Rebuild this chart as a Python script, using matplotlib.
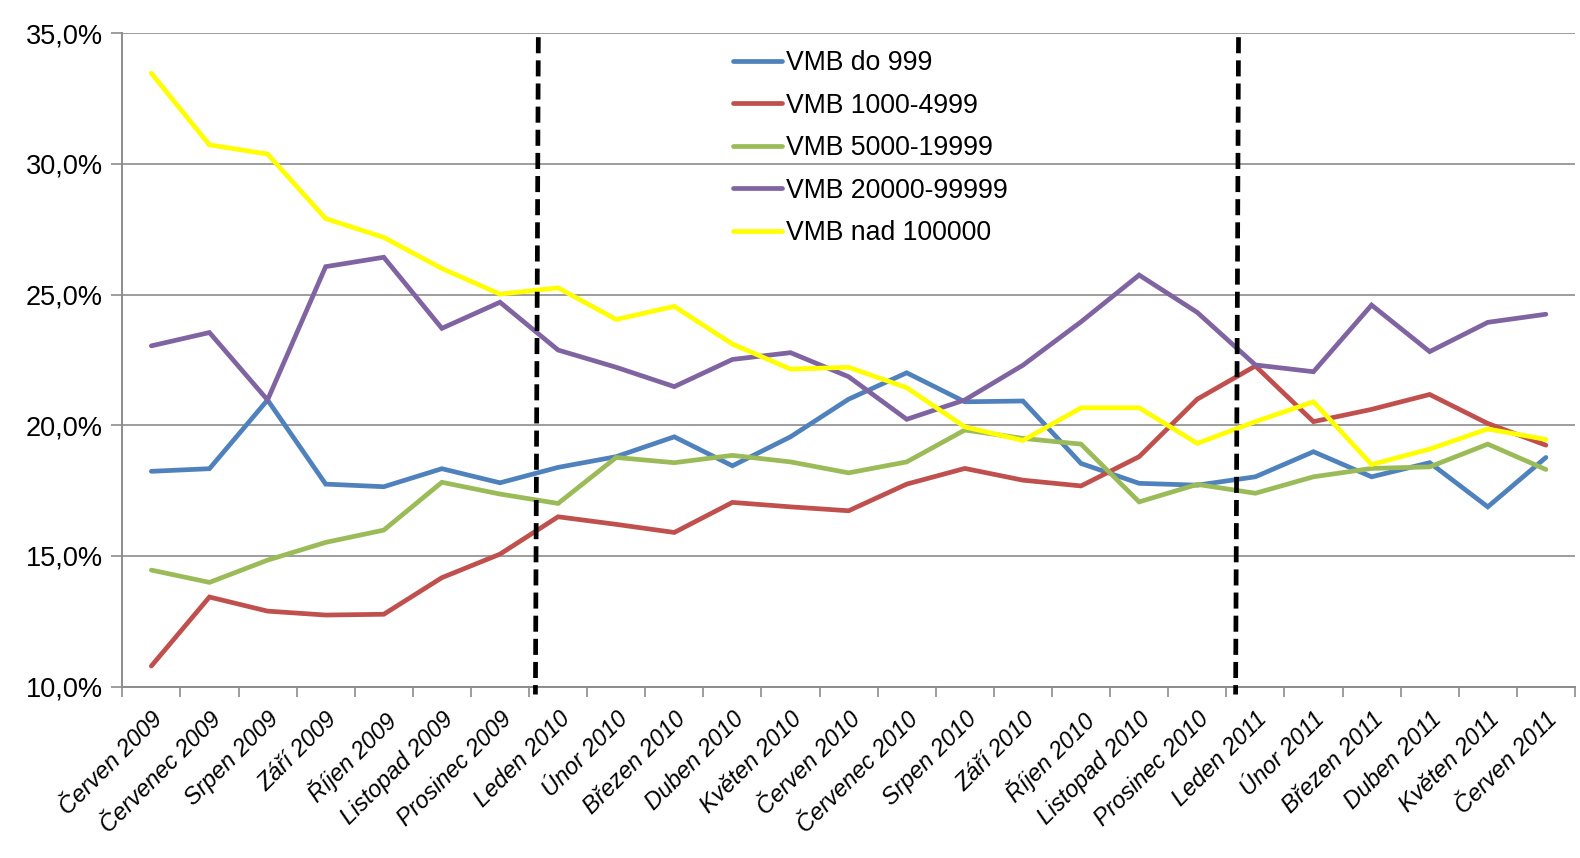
import matplotlib
matplotlib.use("Agg")
import matplotlib.pyplot as plt
import numpy as np
from matplotlib.ticker import FixedLocator, FuncFormatter

plt.rcParams['font.family'] = ['Liberation Sans', 'DejaVu Sans']

months = ['Červen 2009', 'Červenec 2009', 'Srpen 2009', 'Září 2009', 'Říjen 2009',
          'Listopad 2009', 'Prosinec 2009', 'Leden 2010', 'Únor 2010', 'Březen 2010',
          'Duben 2010', 'Květen 2010', 'Červen 2010', 'Červenec 2010', 'Srpen 2010',
          'Září 2010', 'Říjen 2010', 'Listopad 2010', 'Prosinec 2010', 'Leden 2011',
          'Únor 2011', 'Březen 2011', 'Duben 2011', 'Květen 2011', 'Červen 2011']

# shares in percent
vmb_do_999 = [18.24, 18.34, 20.97, 17.75, 17.65, 18.34, 17.80, 18.39, 18.80, 19.56,
              18.45, 19.56, 21.00, 22.01, 20.90, 20.93, 18.54, 17.78, 17.71, 18.03,
              18.99, 18.03, 18.57, 16.88, 18.77]
vmb_1000_4999 = [10.79, 13.43, 12.89, 12.74, 12.77, 14.17, 15.07, 16.50, 16.21, 15.90,
                 17.05, 16.88, 16.73, 17.75, 18.35, 17.90, 17.68, 18.80, 21.00, 22.27,
                 20.14, 20.61, 21.18, 20.07, 19.24]
vmb_5000_19999 = [14.46, 13.99, 14.84, 15.52, 15.99, 17.82, 17.37, 17.01, 18.77, 18.57,
                  18.85, 18.60, 18.18, 18.60, 19.82, 19.50, 19.28, 17.07, 17.74, 17.40,
                  18.03, 18.35, 18.41, 19.28, 18.31]
vmb_20000_99999 = [23.04, 23.55, 20.97, 26.07, 26.43, 23.71, 24.71, 22.88, 22.22, 21.48,
                   22.52, 22.78, 21.86, 20.23, 20.97, 22.30, 23.96, 25.75, 24.32, 22.31,
                   22.05, 24.60, 22.82, 23.94, 24.25]
vmb_nad_100000 = [33.47, 30.73, 30.38, 27.91, 27.19, 26.00, 25.02, 25.26, 24.05, 24.55,
                  23.11, 22.15, 22.22, 21.44, 19.94, 19.42, 20.67, 20.67, 19.31, 20.14,
                  20.90, 18.50, 19.09, 19.86, 19.46]

series = [
    ('VMB do 999', vmb_do_999, '#4F81BD'),
    ('VMB 1000-4999', vmb_1000_4999, '#C0504D'),
    ('VMB 5000-19999', vmb_5000_19999, '#9BBB59'),
    ('VMB 20000-99999', vmb_20000_99999, '#8064A2'),
    ('VMB nad 100000', vmb_nad_100000, '#FFFF00'),
]

# year separators (category position, slightly slanted like the hand-drawn original)
separators = [(6.66, 6.61), (18.71, 18.66)]

fig = plt.figure(figsize=(15.8, 8.58), dpi=100)
ax = fig.add_axes([0.0774, 0.1997, 0.9194, 0.7615])

x = np.arange(len(months))
for name, vals, col in series:
    ax.plot(x, vals, color=col, lw=3.4, label=name, solid_capstyle='round',
            solid_joinstyle='miter')

for top_x, bot_x in separators:
    ax.plot([top_x, bot_x], [34.85, 9.7], color='black', lw=3.4,
            linestyle=(0, (3.4, 1.5)), clip_on=False, zorder=5)

ax.set_xlim(-0.5, len(months) - 0.5)
ax.set_ylim(10, 35)
ax.set_yticks(np.arange(10, 35.1, 5))
ax.yaxis.set_major_formatter(FuncFormatter(lambda v, p: f'{v:.1f}%'.replace('.', ',')))
ax.grid(True, axis='y', color='#8C8C8C', lw=1.2)
ax.set_axisbelow(True)

ax.set_xticks(x)
ax.set_xticklabels(months, rotation=45, ha='right', rotation_mode='anchor',
                   fontsize=17, style='italic')
ax.xaxis.set_minor_locator(FixedLocator(np.arange(-0.5, len(months), 1.0)))
ax.tick_params(axis='x', which='major', length=0, pad=15)
ax.tick_params(axis='x', which='minor', length=7, color='#8C8C8C', width=1.2, direction='out')
ax.tick_params(axis='y', length=8, color='#8C8C8C', width=1.2, labelsize=19.5, pad=6)

for s in ['top', 'right']:
    ax.spines[s].set_visible(False)
for s in ['left', 'bottom']:
    ax.spines[s].set_color('#8C8C8C')
    ax.spines[s].set_linewidth(1.4)

ax.legend(loc='upper left', bbox_to_anchor=(733 / 1580, 1 - 50 / 858),
          bbox_transform=fig.transFigure, frameon=False, fontsize=19.2,
          handlelength=1.85, handletextpad=0.15, labelspacing=0.62,
          borderpad=0, borderaxespad=0)

fig.savefig('out.png', dpi=100)
